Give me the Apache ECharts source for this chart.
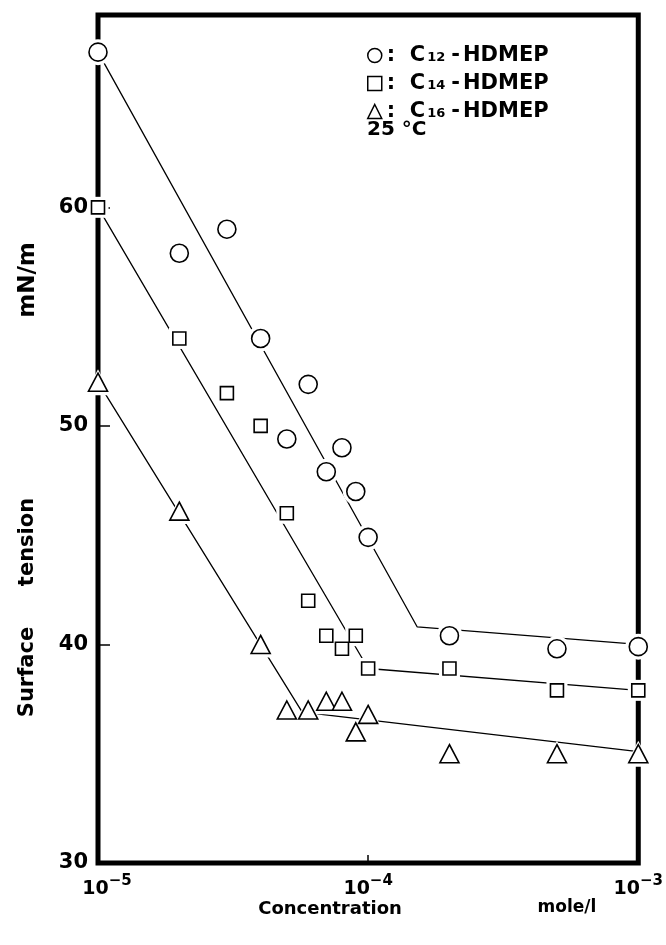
<!DOCTYPE html>
<html>
<head>
<meta charset="utf-8">
<script src="https://cdn.jsdelivr.net/npm/echarts@6/dist/echarts.min.js"></script>
<style>
html,body{margin:0;padding:0;background:#fff;}
#chart{width:666px;height:945px;}
</style>
</head>
<body>
<div id="chart"></div>
<script>
// ---- data ----
var c12Conc = [1e-5, 2e-5, 3e-5, 4e-5, 5e-5, 6e-5, 7e-5, 8e-5, 9e-5, 1e-4, 2e-4, 5e-4, 1e-3];
var c12Tension = [67.1, 57.9, 59.0, 54.0, 49.4, 51.9, 47.9, 49.0, 47.0, 44.9, 40.4, 39.8, 39.9];

var c14Conc = [1e-5, 2e-5, 3e-5, 4e-5, 5e-5, 6e-5, 7e-5, 8e-5, 9e-5, 1e-4, 2e-4, 5e-4, 1e-3];
var c14Tension = [60.0, 54.0, 51.5, 50.0, 46.0, 42.0, 40.4, 39.8, 40.4, 38.9, 38.9, 37.9, 37.9];

var c16Conc = [1e-5, 2e-5, 4e-5, 5e-5, 6e-5, 7e-5, 8e-5, 9e-5, 1e-4, 2e-4, 5e-4, 1e-3];
var c16Tension = [52.0, 46.1, 40.0, 37.0, 37.0, 37.4, 37.4, 36.0, 36.8, 35.0, 35.0, 35.0];

// fitted (hand-drawn) lines: breakpoints
var c12FitConc = [1e-5, 1.52e-4, 1e-3];
var c12FitTension = [67.1, 40.8, 40.0];
var c14FitConc = [1e-5, 1e-4, 1e-3];
var c14FitTension = [60.0, 38.9, 37.9];
var c16FitConc = [1e-5, 5.7e-5, 1e-3];
var c16FitTension = [52.0, 36.9, 35.1];

var yTicks = [30, 40, 50, 60];
var seriesNames = ['C12', 'C14', 'C16'];
var seriesSubs = ['12', '14', '16'];

// ---- build ----
function pairs(xs, ys) { return xs.map(function (x, i) { return [x, ys[i]]; }); }

var FONT = 'DejaVu Sans';
var symbols = ['circle', 'rect', 'triangle'];
var sizes = [18, 13, [19, 18]];
var haloSizes = [26, 21, [27, 26]];
var pts = [pairs(c12Conc, c12Tension), pairs(c14Conc, c14Tension), pairs(c16Conc, c16Tension)];
var fits = [pairs(c12FitConc, c12FitTension), pairs(c14FitConc, c14FitTension), pairs(c16FitConc, c16FitTension)];

var series = [];
fits.forEach(function (d, i) {
  series.push({
    type: 'line', name: 'fit' + i, data: d, symbol: 'none', silent: true, z: 2,
    lineStyle: { color: '#000', width: 1.3 }, animation: false
  });
});
pts.forEach(function (d, i) {
  series.push({
    type: 'scatter', name: 'halo' + i, data: d, symbol: symbols[i], symbolSize: haloSizes[i],
    itemStyle: { color: '#fff', borderWidth: 0, opacity: 1 }, silent: true, z: 3, clip: false, animation: false
  });
});
pts.forEach(function (d, i) {
  series.push({
    type: 'scatter', name: seriesNames[i], data: d, symbol: symbols[i], symbolSize: sizes[i],
    itemStyle: { color: '#fff', borderColor: '#000', borderWidth: 1.6, opacity: 1 }, z: 4, clip: false, animation: false
  });
});

var chart = echarts.init(document.getElementById('chart'), null, { renderer: 'canvas' });
chart.setOption({
  animation: false,
  backgroundColor: '#fff',
  grid: { left: 98, right: 26, top: 15, bottom: 82, show: true, borderColor: '#000', borderWidth: 5, backgroundColor: 'transparent' },
  xAxis: {
    type: 'log', logBase: 10, min: 1e-5, max: 1e-3,
    axisLine: { show: false },
    axisTick: { show: true, inside: true, length: 8, lineStyle: { color: '#000', width: 1.5 } },
    minorTick: { show: false },
    splitLine: { show: false },
    axisLabel: {
      margin: 11,
      formatter: function (v, idx) {
        var e = Math.round(Math.log(v) / Math.LN10);
        var base = idx === 0 ? '{b0|10}' : '{b|10}';
        return base + '{s|\u2212' + Math.abs(e) + '}';
      },
      rich: {
        b: { fontFamily: FONT, fontWeight: 'bold', fontSize: 19, color: '#000', lineHeight: 25, verticalAlign: 'bottom' },
        b0: { fontFamily: FONT, fontWeight: 'bold', fontSize: 19, color: '#000', lineHeight: 25, verticalAlign: 'bottom', padding: [0, 0, 0, 18] },
        s: { fontFamily: FONT, fontWeight: 'bold', fontSize: 15, color: '#000', lineHeight: 15, verticalAlign: 'top' }
      }
    }
  },
  yAxis: {
    type: 'value', min: 30, max: 68.8, interval: 10,
    axisLine: { show: false },
    axisTick: { show: true, inside: true, length: 12, lineStyle: { color: '#000', width: 1.5 } },
    splitLine: { show: false },
    axisLabel: {
      margin: 10, color: '#000', fontFamily: FONT, fontWeight: 'bold', fontSize: 21,
      showMaxLabel: false,
      formatter: function (v) { return yTicks.indexOf(Math.round(v)) >= 0 && Math.abs(v - Math.round(v)) < 1e-6 ? String(Math.round(v)) : ''; }
    }
  },
  legend: {
    data: [
      { name: 'C12', icon: 'circle' },
      { name: 'C14', icon: 'rect' },
      { name: 'C16', icon: 'triangle' }
    ],
    orient: 'vertical', left: 367, top: 45, padding: 0,
    itemWidth: 14, itemHeight: 14, itemGap: 7,
    itemStyle: { color: '#fff', borderColor: '#000', borderWidth: 1.5 },
    selectedMode: false,
    formatter: function (name) {
      var i = seriesNames.indexOf(name);
      return '{t|:  C}{sub|' + seriesSubs[i] + '}{t|-}{h|HDMEP}';
    },
    textStyle: {
      color: '#000',
      rich: {
        t: { fontFamily: FONT, fontWeight: 'bold', fontSize: 21, color: '#000', lineHeight: 18 },
        h: { fontFamily: FONT, fontWeight: 'bold', fontSize: 21, color: '#000', lineHeight: 18, padding: [0, 0, 0, 3] },
        sub: { fontFamily: FONT, fontWeight: 'bold', fontSize: 13, color: '#000', lineHeight: 18, padding: [4, 6, 0, 2] }
      }
    }
  },
  title: {
    text: '25 \u00b0C', left: 367, top: 120, padding: 0,
    textStyle: { fontFamily: FONT, fontWeight: 'bold', fontSize: 20, color: '#000' }
  },
  graphic: [
    { type: 'text', x: 28, y: 672, rotation: Math.PI / 2, style: { text: 'Surface', fontFamily: FONT, fontWeight: 'bold', fontSize: 21, fill: '#000', align: 'center', verticalAlign: 'middle' } },
    { type: 'text', x: 28, y: 542, rotation: Math.PI / 2, style: { text: 'tension', fontFamily: FONT, fontWeight: 'bold', fontSize: 21, fill: '#000', align: 'center', verticalAlign: 'middle' } },
    { type: 'text', x: 28, y: 280, rotation: Math.PI / 2, style: { text: 'mN/m', fontFamily: FONT, fontWeight: 'bold', fontSize: 23, fill: '#000', align: 'center', verticalAlign: 'middle' } },
    { type: 'text', x: 330, y: 909, style: { text: 'Concentration', fontFamily: FONT, fontWeight: 'bold', fontSize: 18, fill: '#000', align: 'center', verticalAlign: 'middle' } },
    { type: 'text', x: 567, y: 908, style: { text: 'mole/l', fontFamily: FONT, fontWeight: 'bold', fontSize: 17, fill: '#000', align: 'center', verticalAlign: 'middle' } }
  ],
  series: series
});
</script>
</body>
</html>
